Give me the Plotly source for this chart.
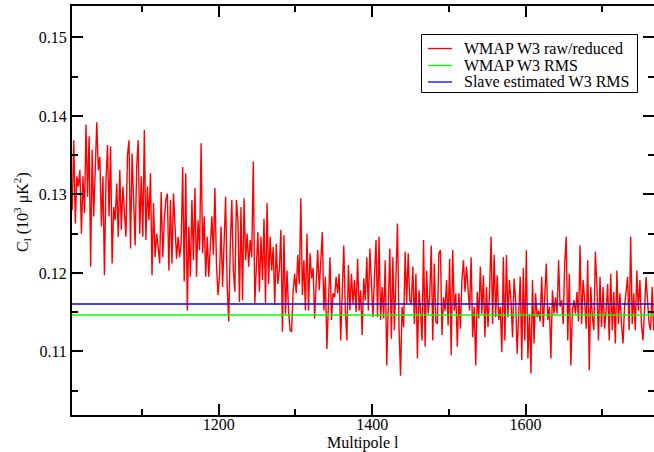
import plotly.graph_objects as go

# Multipoles (every second multipole)
multipoles = list(range(1009, 1768, 2))

cl_1009_1103 = [0.1280, 0.1369, 0.1263, 0.1323, 0.1310, 0.1331, 0.1250, 0.1323, 0.1276, 0.1389,
                0.1297, 0.1374, 0.1208, 0.1357, 0.1272, 0.1340, 0.1392, 0.1331, 0.1348, 0.1259,
                0.1323, 0.1197, 0.1318, 0.1363, 0.1272, 0.1361, 0.1212, 0.1284, 0.1267, 0.1314,
                0.1246, 0.1331, 0.1255, 0.1310, 0.1280, 0.1246, 0.1350, 0.1369, 0.1231, 0.1352,
                0.1293, 0.1235, 0.1335, 0.1369, 0.1250, 0.1323, 0.1246, 0.1382]
cl_1105_1199 = [0.1242, 0.1310, 0.1267, 0.1327, 0.1197, 0.1289, 0.1220, 0.1250, 0.1233, 0.1212,
                0.1303, 0.1220, 0.1267, 0.1293, 0.1301, 0.1203, 0.1293, 0.1212, 0.1301, 0.1263,
                0.1218, 0.1246, 0.1220, 0.1237, 0.1335, 0.1189, 0.1327, 0.1152, 0.1259, 0.1195,
                0.1293, 0.1216, 0.1308, 0.1195, 0.1267, 0.1229, 0.1365, 0.1225, 0.1272, 0.1195,
                0.1246, 0.1195, 0.1246, 0.1272, 0.1223, 0.1308, 0.1212, 0.1172]
cl_1201_1293 = [0.1195, 0.1259, 0.1182, 0.1246, 0.1297, 0.1182, 0.1138, 0.1233, 0.1293, 0.1203,
                0.1176, 0.1293, 0.1267, 0.1163, 0.1284, 0.1165, 0.1295, 0.1216, 0.1250, 0.1208,
                0.1242, 0.1220, 0.1342, 0.1161, 0.1208, 0.1252, 0.1176, 0.1246, 0.1191, 0.1269,
                0.1161, 0.1289, 0.1186, 0.1246, 0.1203, 0.1233, 0.1159, 0.1237, 0.1186, 0.1203,
                0.1255, 0.1125, 0.1248, 0.1148, 0.1203, 0.1152, 0.1127]
cl_1295_1389 = [0.1125, 0.1178, 0.1199, 0.1174, 0.1223, 0.1186, 0.1295, 0.1172, 0.1216, 0.1152,
                0.1250, 0.1152, 0.1225, 0.1193, 0.1206, 0.1142, 0.1178, 0.1229, 0.1178, 0.1208,
                0.1252, 0.1152, 0.1195, 0.1103, 0.1169, 0.1220, 0.1140, 0.1174, 0.1169, 0.1195,
                0.1174, 0.1199, 0.1114, 0.1182, 0.1235, 0.1152, 0.1114, 0.1210, 0.1152, 0.1199,
                0.1161, 0.1191, 0.1150, 0.1218, 0.1152, 0.1178, 0.1121, 0.1193]
cl_1391_1483 = [0.1165, 0.1220, 0.1152, 0.1231, 0.1186, 0.1144, 0.1197, 0.1242, 0.1144, 0.1246,
                0.1140, 0.1182, 0.1142, 0.1216, 0.1082, 0.1178, 0.1231, 0.1116, 0.1220, 0.1127,
                0.1214, 0.1263, 0.1131, 0.1069, 0.1157, 0.1131, 0.1227, 0.1161, 0.1225, 0.1165,
                0.1161, 0.1208, 0.1135, 0.1199, 0.1091, 0.1178, 0.1152, 0.1114, 0.1242, 0.1106,
                0.1203, 0.1148, 0.1169, 0.1235, 0.1114, 0.1212, 0.1138]
cl_1485_1579 = [0.1135, 0.1225, 0.1229, 0.1121, 0.1169, 0.1152, 0.1191, 0.1133, 0.1218, 0.1095,
                0.1229, 0.1152, 0.1174, 0.1106, 0.1174, 0.1129, 0.1191, 0.1216, 0.1176, 0.1208,
                0.1182, 0.1152, 0.1220, 0.1118, 0.1157, 0.1082, 0.1176, 0.1142, 0.1208, 0.1148,
                0.1197, 0.1118, 0.1182, 0.1131, 0.1174, 0.1246, 0.1135, 0.1223, 0.1144, 0.1197,
                0.1140, 0.1157, 0.1099, 0.1220, 0.1114, 0.1223, 0.1144, 0.1191]
cl_1581_1675 = [0.1163, 0.1118, 0.1193, 0.1165, 0.1097, 0.1152, 0.1195, 0.1089, 0.1206, 0.1114,
                0.1229, 0.1091, 0.1148, 0.1072, 0.1191, 0.1110, 0.1174, 0.1144, 0.1152, 0.1138,
                0.1195, 0.1131, 0.1169, 0.1212, 0.1140, 0.1157, 0.1091, 0.1178, 0.1148, 0.1169,
                0.1148, 0.1216, 0.1157, 0.1165, 0.1135, 0.1212, 0.1246, 0.1114, 0.1199, 0.1082,
                0.1152, 0.1165, 0.1148, 0.1176, 0.1138, 0.1235, 0.1135, 0.1191]
cl_1677_1767 = [0.1165, 0.1129, 0.1216, 0.1076, 0.1182, 0.1144, 0.1127, 0.1227, 0.1182, 0.1114,
                0.1195, 0.1131, 0.1182, 0.1129, 0.1152, 0.1186, 0.1114, 0.1199, 0.1127, 0.1176,
                0.1110, 0.1203, 0.1135, 0.1174, 0.1135, 0.1110, 0.1157, 0.1178, 0.1195, 0.1127,
                0.1246, 0.1135, 0.1174, 0.1127, 0.1203, 0.1152, 0.1191, 0.1135, 0.1114, 0.1152,
                0.1195, 0.1165, 0.1135, 0.1127, 0.1182, 0.1127]

cl_raw = (cl_1009_1103 + cl_1105_1199 + cl_1201_1293 + cl_1295_1389 +
          cl_1391_1483 + cl_1485_1579 + cl_1581_1675 + cl_1677_1767)

wmap_rms = 0.11464
slave_rms = 0.11604

series_names = ["WMAP W3 raw/reduced", "WMAP W3 RMS", "Slave estimated W3 RMS"]
series_colors = ["#ff0000", "#00ff00", "#0000ff"]

x_range = [1008.7, 1767.4]
y_range = [0.1019, 0.1540]

fig = go.Figure()
fig.add_trace(go.Scatter(x=multipoles, y=cl_raw, mode="lines", name=series_names[0],
                         line=dict(color=series_colors[0], width=1.4)))
fig.add_trace(go.Scatter(x=x_range, y=[wmap_rms, wmap_rms], mode="lines", name=series_names[1],
                         line=dict(color=series_colors[1], width=1.5)))
fig.add_trace(go.Scatter(x=x_range, y=[slave_rms, slave_rms], mode="lines", name=series_names[2],
                         line=dict(color=series_colors[2], width=1.5)))

font_family = "Liberation Serif"

axis_common = dict(showline=True, linecolor="black", linewidth=2, mirror="ticks",
                   ticks="inside", ticklen=11, tickwidth=1.5, tickcolor="black",
                   showgrid=False, zeroline=False, automargin=False,
                   tickfont=dict(family=font_family, size=16, color="black"))

# plot area geometry (pixels)
L, R, T, B = 72, 0, 6, 37
W, H = 654, 452
pw, ph = W - L - R, H - T - B


def px(xp):
    return (xp - L) / pw


def py(yp):
    return (H - B - yp) / ph


shapes = [dict(type="rect", xref="paper", yref="paper",
               x0=px(421.5), x1=px(637.5), y0=py(92.5), y1=py(34.5),
               line=dict(color="black", width=1), fillcolor="white", layer="above")]
annotations = []
row_y = [48.5, 65.5, 82.0]
for name, color, ry in zip(series_names, series_colors, row_y):
    shapes.append(dict(type="line", xref="paper", yref="paper",
                       x0=px(428), x1=px(452), y0=py(ry), y1=py(ry),
                       line=dict(color=color, width=1.3), layer="above"))
    annotations.append(dict(xref="paper", yref="paper", x=px(462), y=py(ry),
                            xanchor="left", yanchor="middle", text=name, showarrow=False,
                            font=dict(family=font_family, size=16, color="black")))

# axis titles
annotations.append(dict(xref="paper", yref="paper", x=px(363), y=py(443),
                        xanchor="center", yanchor="middle", text="Multipole l", showarrow=False,
                        font=dict(family=font_family, size=16, color="black")))
annotations.append(dict(xref="paper", yref="paper", x=px(22), y=py(212),
                        xanchor="center", yanchor="middle", textangle=-90,
                        text="C<sub>l</sub> (10<sup>3</sup> μK<sup>2</sup>)", showarrow=False,
                        font=dict(family=font_family, size=16, color="black")))

fig.update_layout(
    width=W, height=H,
    margin=dict(l=L, r=R, t=T, b=B, autoexpand=False),
    paper_bgcolor="white", plot_bgcolor="white",
    font=dict(family=font_family, size=16, color="black"),
    xaxis=dict(range=x_range, tick0=0, dtick=200, ticklabelstandoff=-6,
               minor=dict(dtick=100, ticks="inside", ticklen=6, tickcolor="black", tickwidth=1.5),
               **axis_common),
    yaxis=dict(range=y_range, tick0=0, dtick=0.01, tickformat=".2f",
               minor=dict(dtick=0.005, ticks="inside", ticklen=6, tickcolor="black", tickwidth=1.5),
               **axis_common),
    shapes=shapes,
    annotations=annotations,
    showlegend=False,
)

fig.write_html("out.html", config={"displayModeBar": False},
               post_script="document.body.style.margin='0';document.body.style.overflow='hidden';")
